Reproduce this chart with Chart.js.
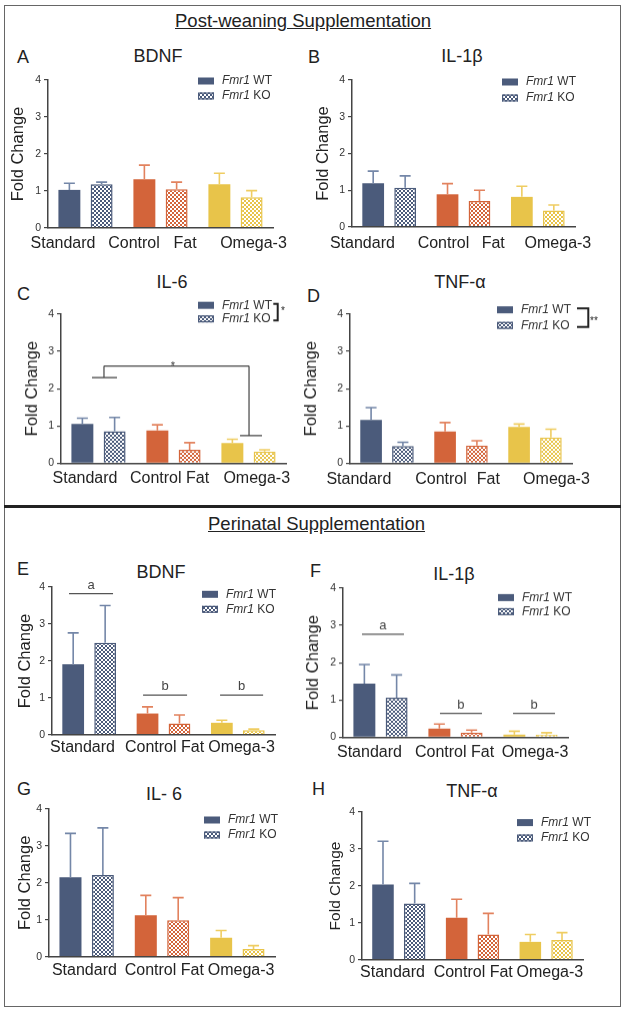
<!DOCTYPE html>
<html><head><meta charset="utf-8">
<script src="https://cdn.jsdelivr.net/npm/chart.js@4.4.1/dist/chart.umd.min.js"></script>
<style>
html,body{margin:0;padding:0;background:#fff;}
#fig{position:relative;width:625px;height:1012px;overflow:hidden;font-family:"Liberation Sans",Arial,Helvetica,sans-serif;color:#222;}
.frame{position:absolute;left:4px;top:5px;width:617px;height:1002px;border:1.5px solid #666;box-sizing:border-box;}
.divider{position:absolute;left:4px;top:505px;width:617px;height:2.5px;background:#222;}
.hdr{position:absolute;font-size:18.5px;line-height:20px;text-decoration:underline;white-space:nowrap;}
.letter{position:absolute;font-size:18px;line-height:20px;}
.ttl{position:absolute;width:200px;text-align:center;font-size:18px;line-height:20px;white-space:nowrap;}
canvas{position:absolute;}
</style></head>
<body>
<div id="fig">
  <div class="frame"></div>
  <div class="divider"></div>
  <div class="hdr" style="left:175px;top:11px;">Post-weaning Supplementation</div>
  <div class="hdr" style="left:208px;top:513.6px;">Perinatal Supplementation</div>
  <div class="letter" style="left:17px;top:46.8px;">A</div>
  <div class="letter" style="left:308px;top:46.8px;">B</div>
  <div class="letter" style="left:17px;top:283.8px;">C</div>
  <div class="letter" style="left:307px;top:285.8px;">D</div>
  <div class="letter" style="left:17px;top:558.8px;">E</div>
  <div class="letter" style="left:310px;top:560.8px;">F</div>
  <div class="letter" style="left:17px;top:778.8px;">G</div>
  <div class="letter" style="left:312px;top:778.8px;">H</div>
  <div class="ttl" style="left:58px;top:45.8px;">BDNF</div>
  <div class="ttl" style="left:362px;top:46.3px;">IL-1β</div>
  <div class="ttl" style="left:72px;top:271.8px;">IL-6</div>
  <div class="ttl" style="left:360px;top:271.8px;">TNF-α</div>
  <div class="ttl" style="left:61px;top:561.8px;">BDNF</div>
  <div class="ttl" style="left:354px;top:563.8px;">IL-1β</div>
  <div class="ttl" style="left:64px;top:783.8px;">IL- 6</div>
  <div class="ttl" style="left:372px;top:780.8px;">TNF-α</div>
</div>
<script>
Chart.defaults.font.family = "'Liberation Sans', Arial, Helvetica, sans-serif";
Chart.defaults.color = '#333';

// ---------- data ----------
const categories = ["Standard", "Control Fat", "Omega-3"];
const seriesLabels = ["Fmr1 WT", "Fmr1 KO"];
const yTickValues = [0, 1, 2, 3, 4];
const xTicksSplit = ["Standard", "Control", "Fat", "Omega-3"];
const xTicksJoined = ["Standard", "Control Fat", "Omega-3"];

// Post-weaning supplementation
const bdnfPostWT = [1.03, 1.32, 1.18];  const bdnfPostWTsem = [0.18, 0.38, 0.30];
const bdnfPostKO = [1.18, 1.05, 0.83];  const bdnfPostKOsem = [0.06, 0.19, 0.18];
const il1bPostWT = [1.19, 0.89, 0.82];  const il1bPostWTsem = [0.33, 0.29, 0.29];
const il1bPostKO = [1.07, 0.71, 0.45];  const il1bPostKOsem = [0.32, 0.29, 0.15];
const il6PostWT  = [1.05, 0.88, 0.54];  const il6PostWTsem  = [0.16, 0.15, 0.10];
const il6PostKO  = [0.86, 0.36, 0.31];  const il6PostKOsem  = [0.37, 0.19, 0.05];
const tnfPostWT  = [1.16, 0.85, 0.97];  const tnfPostWTsem  = [0.33, 0.24, 0.08];
const tnfPostKO  = [0.46, 0.47, 0.69];  const tnfPostKOsem  = [0.10, 0.13, 0.22];
// Perinatal supplementation
const bdnfPeriWT = [1.91, 0.58, 0.33];  const bdnfPeriWTsem = [0.85, 0.18, 0.07];
const bdnfPeriKO = [2.49, 0.31, 0.13];  const bdnfPeriKOsem = [1.01, 0.23, 0.03];
const il1bPeriWT = [1.44, 0.23, 0.07];  const il1bPeriWTsem = [0.51, 0.12, 0.09];
const il1bPeriKO = [1.06, 0.12, 0.07];  const il1bPeriKOsem = [0.61, 0.07, 0.05];
const il6PeriWT  = [2.15, 1.12, 0.51];  const il6PeriWTsem  = [1.19, 0.54, 0.20];
const il6PeriKO  = [2.21, 0.99, 0.21];  const il6PeriKOsem  = [1.28, 0.61, 0.09];
const tnfPeriWT  = [2.04, 1.14, 0.49];  const tnfPeriWTsem  = [1.17, 0.50, 0.20];
const tnfPeriKO  = [1.53, 0.69, 0.54];  const tnfPeriKOsem  = [0.54, 0.57, 0.20];

// annotations (data space: x in category units, y in fold change)
const sigLinesC = [[0.073, 2.61, 2.007, 2.61], [0.073, 2.61, 0.073, 2.30], [-0.087, 2.30, 0.247, 2.30],
                   [2.007, 2.61, 2.007, 0.74], [1.887, 0.74, 2.18, 0.74]];
const sigStarC = {x: 0.993, y: 2.61, text: '*'};
const groupLettersE = [{x1: -0.271, x2: 0.321, y: 3.82, text: 'a'}, {x1: 0.725, x2: 1.317, y: 1.08, text: 'b'}, {x1: 1.761, x2: 2.34, y: 1.08, text: 'b'}];
const groupLettersF = [{x1: -0.247, x2: 0.313, y: 2.76, text: 'a'}, {x1: 0.793, x2: 1.353, y: 0.64, text: 'b'}, {x1: 1.767, x2: 2.327, y: 0.64, text: 'b'}];

// ---------- styles ----------
const barColors = ['#4b5b7b', '#d3643a', '#e8c44a'];
const errColors = ['#7487a8', '#e2825e', '#efcd62'];

function checker(color) {
  const c = document.createElement('canvas');
  c.width = 4; c.height = 4;
  const g = c.getContext('2d');
  g.fillStyle = '#fff'; g.fillRect(0, 0, 4, 4);
  g.fillStyle = color; g.fillRect(0, 0, 2, 2); g.fillRect(2, 2, 2, 2);
  return g.createPattern(c, 'repeat');
}

// ---------- panel layout ----------
const panels = [
  {left: 8,   axisX: 48,  top: 80,    bottom: 228,   right: 273, label: 244,   xLabels: xTicksSplit,  xPos: [-0.30, 0.647, 1.327, 2.24],
   wt: bdnfPostWT, wtSem: bdnfPostWTsem, ko: bdnfPostKO, koSem: bdnfPostKOsem, leg: {x: 198, y: 81, gap: 15}},
  {left: 313, axisX: 352, top: 80,    bottom: 227,   right: 575, label: 244,   xLabels: xTicksSplit,  xPos: [-0.36, 0.73, 1.40, 2.27],
   wt: il1bPostWT, wtSem: il1bPostWTsem, ko: il1bPostKO, koSem: il1bPostKOsem, leg: {x: 502, y: 82, gap: 16}},
  {left: 22,  axisX: 61,  top: 314.3, bottom: 463.3, right: 286, label: 479,   xLabels: xTicksJoined, xPos: [-0.18, 0.947, 2.11],
   wt: il6PostWT, wtSem: il6PostWTsem, ko: il6PostKO, koSem: il6PostKOsem, leg: {x: 198, y: 305.5, gap: 13.5, bracket: {x0: 273.3, x1: 277.7, star: '*', sx: 281, sy: 314}},
   sig: {lines: sigLinesC, star: sigStarC}},
  {left: 301, axisX: 350, top: 314.3, bottom: 463.3, right: 572, label: 480,   xLabels: xTicksSplit,  xPos: [-0.38, 0.73, 1.37, 2.29],
   wt: tnfPostWT, wtSem: tnfPostWTsem, ko: tnfPostKO, koSem: tnfPostKOsem, leg: {x: 497, y: 310, gap: 15.5, bracket: {x0: 577, x1: 588.3, star: '**', sx: 590, sy: 324}}},
  {left: 15,  axisX: 52,  top: 586.7, bottom: 735,   right: 275, label: 748,   xLabels: xTicksJoined, xPos: [-0.09, 1.014, 2.05],
   wt: bdnfPeriWT, wtSem: bdnfPeriWTsem, ko: bdnfPeriKO, koSem: bdnfPeriKOsem, leg: {x: 202, y: 594, gap: 15}, letters: groupLettersE},
  {left: 303, axisX: 343, top: 588.3, bottom: 737,   right: 568, label: 752.7, xLabels: xTicksJoined, xPos: [-0.147, 0.987, 2.06],
   wt: il1bPeriWT, wtSem: il1bPeriWTsem, ko: il1bPeriKO, koSem: il1bPeriKOsem, leg: {x: 498, y: 597.7, gap: 14}, letters: groupLettersF},
  {left: 15,  axisX: 49,  top: 809,   bottom: 956.7, right: 275, label: 971,   xLabels: xTicksJoined, xPos: [-0.03, 1.03, 2.05],
   wt: il6PeriWT, wtSem: il6PeriWTsem, ko: il6PeriKO, koSem: il6PeriKOsem, leg: {x: 204, y: 820, gap: 15}},
  {left: 325, axisX: 362, top: 811.7, bottom: 960,   right: 583, label: 973,   xLabels: xTicksJoined, xPos: [-0.086, 1.01, 2.05],
   wt: tnfPeriWT, wtSem: tnfPeriWTsem, ko: tnfPeriKO, koSem: tnfPeriKOsem, leg: {x: 517, y: 822.3, gap: 15.4}, titleSize: 15.5}
];

const FONT = "'Liberation Sans', Arial, Helvetica, sans-serif";
const PAD_TOP = 24;

function makeDecor(p, T) {
  return {
    id: 'decor',
    afterDatasetsDraw(chart) {
      const ctx = chart.ctx;
      const ys = chart.scales.y, xs = chart.scales.xl;
      // error bars (upper SEM only)
      chart.data.datasets.forEach((ds, di) => {
        const meta = chart.getDatasetMeta(di);
        meta.data.forEach((bar, j) => {
          const topPx = ys.getPixelForValue(ds.data[j] + ds.sem[j]);
          ctx.save();
          ctx.strokeStyle = errColors[j];
          ctx.lineWidth = 1.6;
          ctx.beginPath();
          ctx.moveTo(bar.x, bar.y);
          ctx.lineTo(bar.x, topPx);
          ctx.moveTo(bar.x - 5.5, topPx);
          ctx.lineTo(bar.x + 5.5, topPx);
          ctx.stroke();
          ctx.restore();
        });
      });
      // significance bracket
      if (p.sig) {
        ctx.save();
        ctx.strokeStyle = '#444'; ctx.lineWidth = 1.2;
        ctx.beginPath();
        p.sig.lines.forEach(l => {
          ctx.moveTo(xs.getPixelForValue(l[0]), ys.getPixelForValue(l[1]));
          ctx.lineTo(xs.getPixelForValue(l[2]), ys.getPixelForValue(l[3]));
        });
        ctx.stroke();
        ctx.fillStyle = '#333'; ctx.font = '11px ' + FONT; ctx.textAlign = 'center'; ctx.textBaseline = 'alphabetic';
        ctx.fillText(p.sig.star.text, xs.getPixelForValue(p.sig.star.x), ys.getPixelForValue(p.sig.star.y) + 3.3);
        ctx.restore();
      }
      // group letters
      if (p.letters) {
        ctx.save();
        ctx.strokeStyle = '#555'; ctx.lineWidth = 1.2;
        ctx.fillStyle = '#444'; ctx.font = '13px ' + FONT; ctx.textAlign = 'center'; ctx.textBaseline = 'alphabetic';
        p.letters.forEach(a => {
          const x1 = xs.getPixelForValue(a.x1), x2 = xs.getPixelForValue(a.x2), y = ys.getPixelForValue(a.y);
          ctx.beginPath(); ctx.moveTo(x1, y); ctx.lineTo(x2, y); ctx.stroke();
          ctx.fillText(a.text, (x1 + x2) / 2, y - 5);
        });
        ctx.restore();
      }
      // legend
      const lg = p.leg;
      const lx = lg.x - p.left;
      chart.data.datasets.forEach((ds, di) => {
        const cy = lg.y - T + di * lg.gap;
        ctx.save();
        if (di === 0) {
          ctx.fillStyle = barColors[0];
          ctx.fillRect(lx, cy - 3.5, 16, 7);
        } else {
          ctx.fillStyle = ds.backgroundColor[0];
          ctx.fillRect(lx, cy - 3.5, 16, 7);
          ctx.strokeStyle = barColors[0]; ctx.lineWidth = 1.2;
          ctx.strokeRect(lx + 0.6, cy - 2.9, 14.8, 5.8);
        }
        const parts = ds.label.split(' ');
        ctx.fillStyle = '#333';
        ctx.textBaseline = 'middle'; ctx.textAlign = 'left';
        ctx.font = 'italic 12px ' + FONT;
        const tx = lx + 24;
        ctx.fillText(parts[0], tx, cy);
        const w0 = ctx.measureText(parts[0] + ' ').width;
        ctx.font = '12px ' + FONT;
        ctx.fillText(parts.slice(1).join(' '), tx + w0, cy);
        ctx.restore();
      });
      if (lg.bracket) {
        const b = lg.bracket;
        const y0 = lg.y - T - 1.5, y1 = lg.y - T + lg.gap + 1.5;
        ctx.save();
        ctx.strokeStyle = '#222'; ctx.lineWidth = 2;
        ctx.beginPath();
        ctx.moveTo(b.x0 - p.left, y0); ctx.lineTo(b.x1 - p.left, y0);
        ctx.lineTo(b.x1 - p.left, y1); ctx.lineTo(b.x0 - p.left, y1);
        ctx.stroke();
        ctx.fillStyle = '#222'; ctx.font = '10px ' + FONT; ctx.textAlign = 'left'; ctx.textBaseline = 'alphabetic';
        ctx.fillText(b.star, b.sx - p.left, b.sy - T);
        ctx.restore();
      }
    }
  };
}

const fig = document.getElementById('fig');
panels.forEach(p => {
  const T = p.top - PAD_TOP;
  const H = p.label + 12 - T;
  const W = p.right + 30 - p.left;
  const cv = document.createElement('canvas');
  cv.width = W; cv.height = H;
  cv.style.left = p.left + 'px'; cv.style.top = T + 'px';
  cv.style.width = W + 'px'; cv.style.height = H + 'px';
  fig.appendChild(cv);
  new Chart(cv, {
    type: 'bar',
    data: {
      labels: categories,
      datasets: [
        {label: seriesLabels[0], data: p.wt, sem: p.wtSem, backgroundColor: barColors, borderWidth: 0, xAxisID: 'x', yAxisID: 'y'},
        {label: seriesLabels[1], data: p.ko, sem: p.koSem, backgroundColor: barColors.map(checker), borderColor: barColors, borderWidth: 1.5, xAxisID: 'x', yAxisID: 'y'}
      ]
    },
    options: {
      responsive: false, animation: false, devicePixelRatio: 1,
      layout: {padding: {top: PAD_TOP, right: 30, left: 0, bottom: 0}},
      datasets: {bar: {categoryPercentage: 0.86, barPercentage: 0.68}},
      plugins: {legend: {display: false}, tooltip: {enabled: false}, title: {display: false}},
      scales: {
        x: {type: 'category', display: false, offset: true},
        xl: {
          type: 'linear', axis: 'x', position: 'bottom', min: -0.5, max: 2.5, bounds: 'data', offset: false,
          grid: {display: false, drawTicks: false, tickLength: 0, offset: false},
          border: {display: true, color: '#444', width: 1.5, z: 1},
          ticks: {autoSkip: false, maxRotation: 0, minRotation: 0, padding: p.label - p.bottom - 9.6,
                  font: {size: 16}, color: '#222', callback: (v, i) => p.xLabels[i]},
          afterBuildTicks: s => { s.ticks = p.xPos.map(v => ({value: v})); },
          afterFit: s => { s.height = p.label + 12 - p.bottom; }
        },
        y: {
          type: 'linear', position: 'left', min: 0, max: 4,
          afterBuildTicks: s => { s.ticks = yTickValues.map(v => ({value: v})); },
          ticks: {stepSize: 1, padding: 3, font: {size: 10.5}, color: '#333'},
          grid: {drawOnChartArea: false, drawTicks: true, tickLength: 4, color: '#444', lineWidth: 1.2},
          border: {display: true, color: '#444', width: 1.5, z: 1},
          title: {display: true, text: 'Fold Change', font: {size: p.titleSize || 16.5}, color: '#222', padding: {top: 1, bottom: 0}},
          afterFit: s => { s.width = p.axisX - p.left; }
        }
      }
    },
    plugins: [makeDecor(p, T)]
  });
});
</script>
</body></html>
